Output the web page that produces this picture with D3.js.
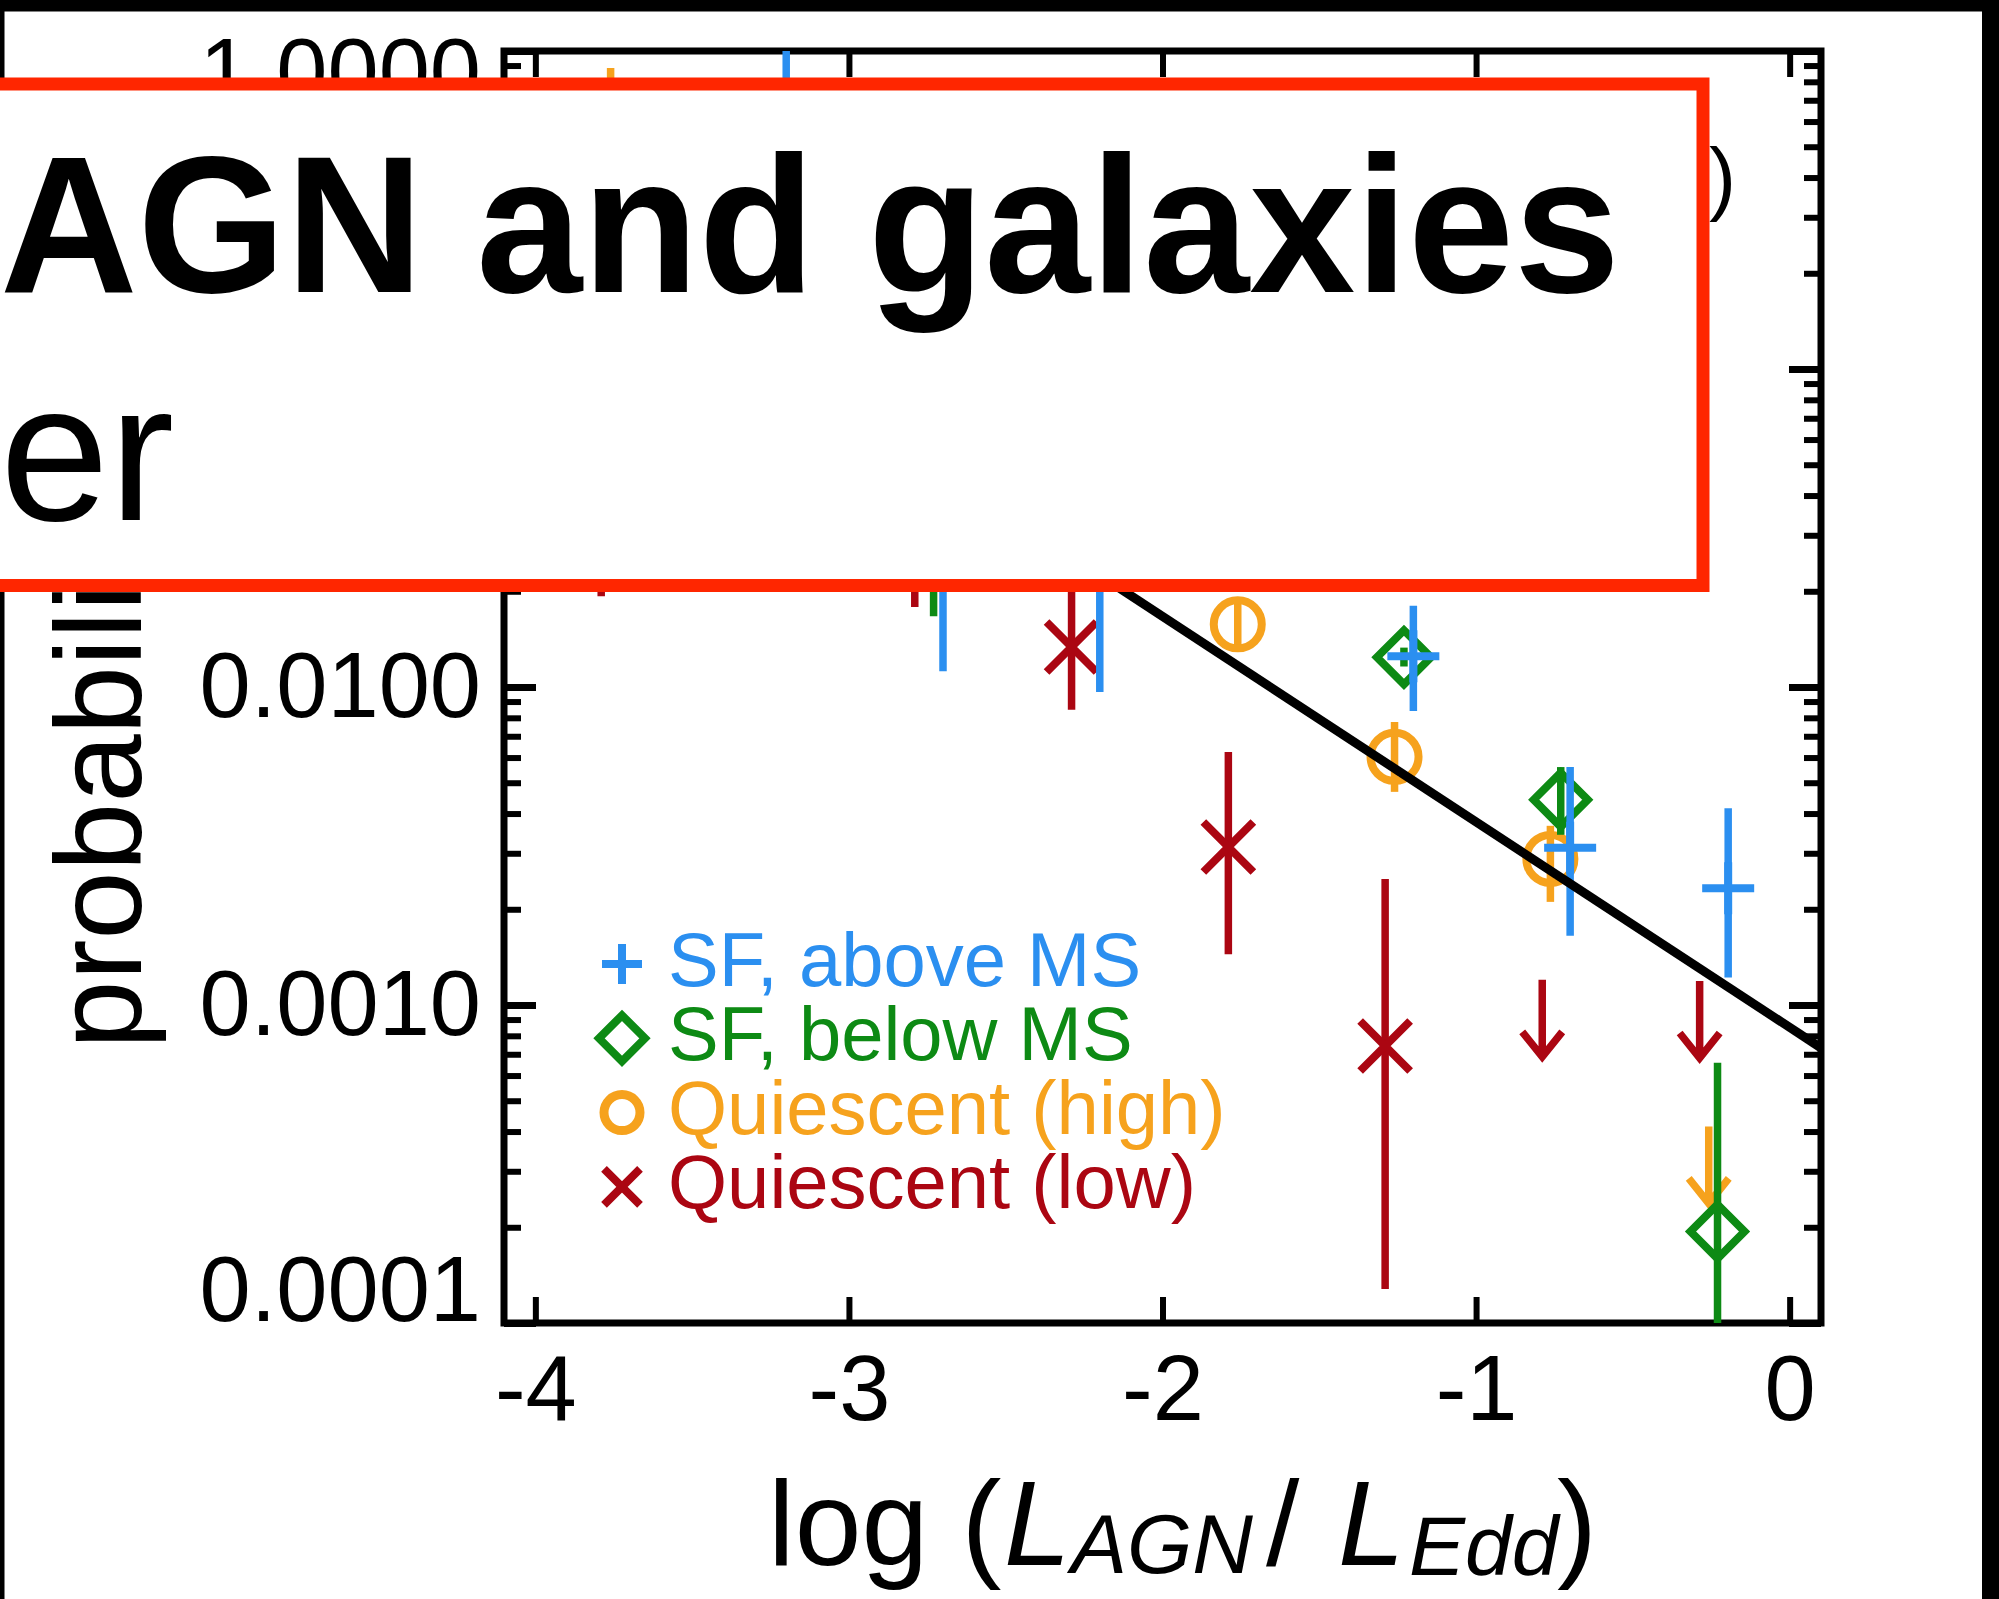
<!DOCTYPE html>
<html><head><meta charset="utf-8">
<script src="https://cdn.jsdelivr.net/npm/d3@7"></script>
<style>
html,body{margin:0;padding:0;background:#fff;overflow:hidden}
svg{display:block}
text{font-family:"Liberation Sans",Arial,Helvetica,sans-serif}
</style></head><body>
<svg id="c" width="1999" height="1599"></svg>
<script>
// ---------------- data ----------------
const xDomain = [-4.1, 0.1];
const yDomain = [1e-4, 1];
const xTicks = [-4, -3, -2, -1, 0];
const xTickLabels = ["-4", "-3", "-2", "-1", "0"];
const yTicks = [1e-4, 1e-3, 1e-2, 1e-1, 1];
const yTickLabels = ["0.0001", "0.0010", "0.0100", "0.1000", "1.0000"];

const seriesNames = ["SF, above MS", "SF, below MS", "Quiescent (high)", "Quiescent (low)"];
const seriesColors = ["#2b8ff0", "#0d8a14", "#f6a21d", "#ab0612"];
const seriesSymbols = ["plus", "diamond", "circle", "cross"];

// SF, above MS
const sfAboveX  = [-3.20, -2.70, -2.20, -1.20, -0.70, -0.196];
const sfAboveY  = [0.10, 0.035, 0.040, 0.0125, 0.00312, 0.00233];
const sfAboveLo = [0.025, 0.0112, 0.00964, 0.00841, 0.00165, 0.00122];
const sfAboveHi = [1.0, 0.060, 0.070, 0.0180, 0.0056, 0.00416];

// SF, below MS
const sfBelowX  = [-2.73, -1.23, -0.73, -0.23];
const sfBelowY  = [0.030, 0.0124, 0.00442, 0.000194];
const sfBelowLo = [0.0167, 0.0116, 0.00343, 0.00005];
const sfBelowHi = [0.050, 0.0133, 0.0056, 0.000658];

// Quiescent (high)
const qHighX  = [-3.76, -1.76, -1.26, -0.763];
const qHighY  = [0.30, 0.01574, 0.00603, 0.00288];
const qHighLo = [0.050, 0.0129, 0.00468, 0.00211];
const qHighHi = [0.884, 0.0190, 0.00776, 0.00366];
const qHighLimX = [-0.258];
const qHighLimY = [0.000415];

// Quiescent (low)
const qLowX  = [-3.79, -2.79, -2.29, -1.79, -1.29];
const qLowY  = [0.050, 0.035, 0.01336, 0.00314, 0.000743];
const qLowLo = [0.0193, 0.01786, 0.00848, 0.001445, 0.000128];
const qLowHi = [0.10, 0.060, 0.030, 0.00625, 0.00249];
const qLowLimX = [-0.789, -0.287];
const qLowLimY = [0.0012, 0.00119];

// power-law fit line (end points)
const fitX = [-4.1, 0.1];
const fitY = [0.379, 0.000733];

const titleLine1 = "AGN and galaxies";
const titleLine2 = "er";
const yLabel = "probability";
const cornerNote = ")";

// ---------------- layout ----------------
const svg = d3.select("#c");
const M = {left: 504, right: 1821, top: 51, bottom: 1323};
const x = d3.scaleLinear().domain(xDomain).range([M.left, M.right]);
const y = d3.scaleLog().domain(yDomain).range([M.bottom, M.top]);
const FONT = '"Liberation Sans", Arial, Helvetica, sans-serif';

svg.append("rect").attr("width", 1999).attr("height", 1599).attr("fill", "#fff");
// slide black frame
svg.append("rect").attr("x", 0).attr("y", 0).attr("width", 1999).attr("height", 11.5).attr("fill", "#000");
svg.append("rect").attr("x", 0).attr("y", 0).attr("width", 4.5).attr("height", 1599).attr("fill", "#000");
svg.append("rect").attr("x", 1982).attr("y", 0).attr("width", 17).attr("height", 1599).attr("fill", "#000");

// minor log ticks
const minorTicks = [];
for (let e = -4; e < 0; e++) for (let m = 2; m <= 9; m++) minorTicks.push(m * Math.pow(10, e));

function styleAxis(g, sw) {
  g.select(".domain").remove();
  g.selectAll(".tick line").attr("stroke", "#000").attr("stroke-width", sw);
}

// bottom axis
const gB = svg.append("g").attr("transform", `translate(0,${M.bottom})`)
  .call(d3.axisBottom(x).tickValues(xTicks).tickSize(-26).tickPadding(32)
    .tickFormat((d, i) => xTickLabels[i]));
styleAxis(gB, 6);
gB.selectAll(".tick text").attr("font-size", 92).attr("font-family", FONT).attr("fill", "#000");

// top axis
const gT = svg.append("g").attr("transform", `translate(0,${M.top})`)
  .call(d3.axisTop(x).tickValues(xTicks).tickSize(-26).tickFormat(""));
styleAxis(gT, 6);

// left axis
const gL = svg.append("g").attr("transform", `translate(${M.left},0)`)
  .call(d3.axisLeft(y).tickValues(yTicks).tickSize(-32).tickPadding(23)
    .tickFormat((d, i) => yTickLabels[i]));
styleAxis(gL, 7);
gL.selectAll(".tick text").attr("font-size", 92).attr("font-family", FONT).attr("fill", "#000")
  .attr("y", d => d === yDomain[0] ? -32 : (d === yDomain[1] ? 22 : 0));
const gLm = svg.append("g").attr("transform", `translate(${M.left},0)`)
  .call(d3.axisLeft(y).tickValues(minorTicks).tickSize(-17).tickFormat(""));
styleAxis(gLm, 6);

// right axis
const gR = svg.append("g").attr("transform", `translate(${M.right},0)`)
  .call(d3.axisRight(y).tickValues(yTicks).tickSize(-32).tickFormat(""));
styleAxis(gR, 7);
const gRm = svg.append("g").attr("transform", `translate(${M.right},0)`)
  .call(d3.axisRight(y).tickValues(minorTicks).tickSize(-17).tickFormat(""));
styleAxis(gRm, 6);

// frame
svg.append("rect").attr("x", M.left).attr("y", M.top)
  .attr("width", M.right - M.left).attr("height", M.bottom - M.top)
  .attr("fill", "none").attr("stroke", "#000").attr("stroke-width", 7);

// corner annotation (mostly hidden by the overlay box)
svg.append("text").attr("x", 1736).attr("y", 205).attr("text-anchor", "end")
  .attr("font-size", 81).attr("font-family", FONT).text(cornerNote);

// axis titles
const xl = svg.append("text").attr("y", 1565).attr("font-family", FONT).attr("fill", "#000");
xl.append("tspan").attr("x", 768).attr("font-size", 120).text("log (");
xl.append("tspan").attr("x", 1004).attr("font-size", 120).attr("font-style", "italic").text("L");
xl.append("tspan").attr("x", 1071).attr("font-size", 84).attr("font-style", "italic").attr("dy", 8).text("AGN");
xl.append("tspan").attr("x", 1266).attr("font-size", 120).attr("dy", -8).text("/");
xl.append("tspan").attr("x", 1338).attr("font-size", 120).attr("font-style", "italic").text("L");
xl.append("tspan").attr("x", 1409).attr("font-size", 84).attr("font-style", "italic").attr("dy", 10).text("Edd");
xl.append("tspan").attr("x", 1557).attr("font-size", 120).attr("dy", -10).text(")");

svg.append("text").attr("transform", "translate(140.5,1049) rotate(-90)")
  .attr("font-size", 123).attr("font-family", FONT).text(yLabel);

// ---------------- data marks ----------------
svg.append("clipPath").attr("id", "plotclip").append("rect")
  .attr("x", M.left).attr("y", M.top).attr("width", M.right - M.left).attr("height", M.bottom - M.top);
const plot = svg.append("g").attr("clip-path", "url(#plotclip)");

function marker(g, type, cx, cy, s, color, sw) {
  if (type === "plus") {
    g.append("path").attr("d", `M${cx - s},${cy}H${cx + s}M${cx},${cy - s}V${cy + s}`)
      .attr("stroke", color).attr("stroke-width", sw).attr("fill", "none");
  } else if (type === "diamond") {
    g.append("path").attr("d", `M${cx},${cy - s}L${cx + s},${cy}L${cx},${cy + s}L${cx - s},${cy}Z`)
      .attr("stroke", color).attr("stroke-width", sw).attr("fill", "none");
  } else if (type === "circle") {
    g.append("circle").attr("cx", cx).attr("cy", cy).attr("r", s)
      .attr("stroke", color).attr("stroke-width", sw).attr("fill", "none");
  } else {
    g.append("path").attr("d", `M${cx - s},${cy - s}L${cx + s},${cy + s}M${cx + s},${cy - s}L${cx - s},${cy + s}`)
      .attr("stroke", color).attr("stroke-width", sw).attr("fill", "none");
  }
}

const series = [
  {i: 3, xs: qLowX, ys: qLowY, lo: qLowLo, hi: qLowHi, limX: qLowLimX, limY: qLowLimY},
  {i: 2, xs: qHighX, ys: qHighY, lo: qHighLo, hi: qHighHi, limX: qHighLimX, limY: qHighLimY},
  {i: 1, xs: sfBelowX, ys: sfBelowY, lo: sfBelowLo, hi: sfBelowHi, limX: [], limY: []},
  {i: 0, xs: sfAboveX, ys: sfAboveY, lo: sfAboveLo, hi: sfAboveHi, limX: [], limY: []}
];
const markSize = {plus: 26, diamond: 27, circle: 24, cross: 25};
const ARROW = 77;

series.forEach(s => {
  const col = seriesColors[s.i], sym = seriesSymbols[s.i];
  const g = plot.append("g");
  s.xs.forEach((xv, k) => {
    g.append("line").attr("x1", x(xv)).attr("x2", x(xv))
      .attr("y1", y(s.hi[k])).attr("y2", y(s.lo[k]))
      .attr("stroke", col).attr("stroke-width", 7.5);
    marker(g, sym, x(xv), y(s.ys[k]), markSize[sym], col, 8);
  });
  s.limX.forEach((xv, k) => {
    const px = x(xv), py = y(s.limY[k]), tip = py + ARROW;
    g.append("path").attr("d", `M${px},${py}V${tip}M${px - 20},${tip - 25}L${px},${tip}L${px + 20},${tip - 25}`)
      .attr("stroke", col).attr("stroke-width", 7.5).attr("fill", "none");
  });
});

// fit line
plot.append("path")
  .attr("d", d3.line().x(d => x(d[0])).y(d => y(d[1]))(fitX.map((v, k) => [v, fitY[k]])))
  .attr("stroke", "#000").attr("stroke-width", 9).attr("fill", "none");

// legend (one text block, one line per series)
const leg = svg.append("g");
const legSize = {plus: 20, diamond: 23, circle: 18, cross: 18};
const legText = leg.append("text").attr("font-size", 76).attr("font-family", FONT);
seriesNames.forEach((nm, k) => {
  const cy = 958 + k * 74.3;
  marker(leg, seriesSymbols[k], 622, cy + 6, legSize[seriesSymbols[k]], seriesColors[k], seriesSymbols[k] === "circle" ? 9 : 8);
  legText.append("tspan").attr("x", 668).attr("y", cy + 27.5)
    .attr("fill", seriesColors[k]).text(nm);
});

// ---------------- overlay box ----------------
svg.append("rect").attr("x", -20).attr("y", 84).attr("width", 1723).attr("height", 501.5)
  .attr("fill", "#fff").attr("stroke", "#ff2600").attr("stroke-width", 13);
svg.append("text").attr("x", 0).attr("y", 292).attr("font-size", 194).attr("font-weight", "bold")
  .attr("font-family", FONT).attr("textLength", 1620).attr("lengthAdjust", "spacingAndGlyphs")
  .text(titleLine1);
svg.append("text").attr("x", 0).attr("y", 520).attr("font-size", 196)
  .attr("font-family", FONT).text(titleLine2);
</script>
</body></html>
